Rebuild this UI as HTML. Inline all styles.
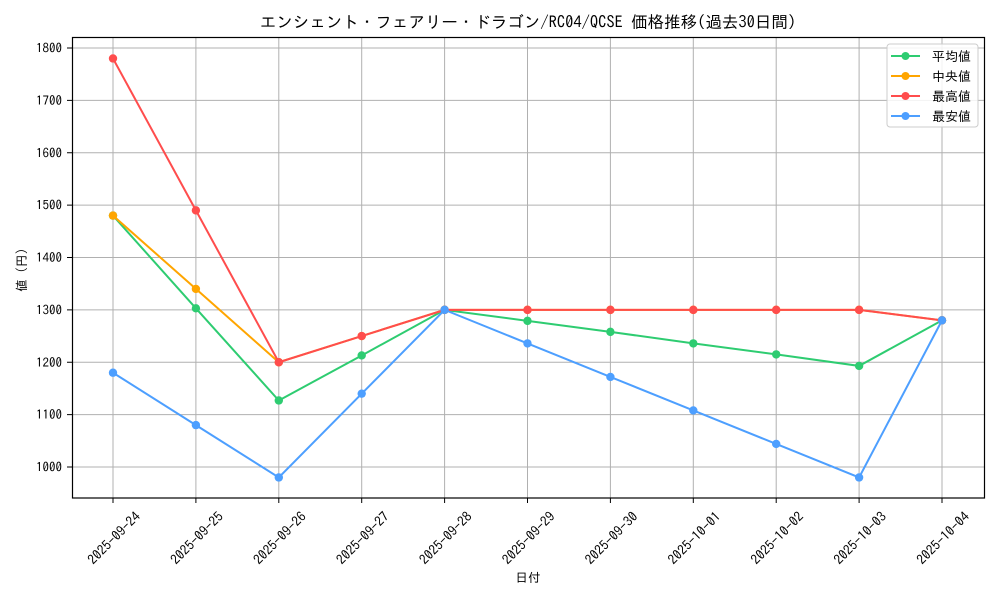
<!DOCTYPE html>
<html><head><meta charset="utf-8"><style>
body{margin:0;background:#fff}
svg{display:block;font-family:"IPAGothic","Noto Sans CJK JP",sans-serif}
</style></head><body>
<svg id="s" width="1000" height="600" xmlns="http://www.w3.org/2000/svg">
<rect width="1000" height="600" fill="#fff"/>
<text x="528" y="28" font-size="16.5" text-anchor="middle" fill="#000">エンシェント・フェアリー・ドラゴン/RC04/QCSE 価格推移(過去30日間)</text>
<g id="grid"></g>
<rect x="72.5" y="37.5" width="912" height="460.5" fill="none" stroke="#000" stroke-width="1.2"/>
<g id="series"></g>
<text x="528" y="582" font-size="12.5" text-anchor="middle">日付</text>
<text transform="translate(26,270) rotate(-90)" font-size="12.5" text-anchor="middle">値 (円)</text>
<g>
<rect x="887" y="44" width="91" height="83" rx="3" fill="#fff" fill-opacity="0.85" stroke="#ccc"/>
<line x1="891" y1="56" x2="920" y2="56" stroke="#2ecc71" stroke-width="2"/><circle cx="905.5" cy="56" r="4" fill="#2ecc71"/><text x="932" y="61" font-size="13">平均値</text>
<line x1="891" y1="76" x2="920" y2="76" stroke="#ffa500" stroke-width="2"/><circle cx="905.5" cy="76" r="4" fill="#ffa500"/><text x="932" y="81" font-size="13">中央値</text>
<line x1="891" y1="96" x2="920" y2="96" stroke="#ff4d4d" stroke-width="2"/><circle cx="905.5" cy="96" r="4" fill="#ff4d4d"/><text x="932" y="101" font-size="13">最高値</text>
<line x1="891" y1="116" x2="920" y2="116" stroke="#4d9fff" stroke-width="2"/><circle cx="905.5" cy="116" r="4" fill="#4d9fff"/><text x="932" y="121" font-size="13">最安値</text>
</g>
</svg>
<script>
var NS="http://www.w3.org/2000/svg";
function X(i){return 113+i*82.9}
function Y(v){return 467-(v-1000)*0.52375}
function el(p,t,a,txt){var e=document.createElementNS(NS,t);for(var k in a)e.setAttribute(k,a[k]);if(txt)e.textContent=txt;p.appendChild(e);return e}
var g=document.getElementById("grid");
var dates=["2025-09-24","2025-09-25","2025-09-26","2025-09-27","2025-09-28","2025-09-29","2025-09-30","2025-10-01","2025-10-02","2025-10-03","2025-10-04"];
for(var i=0;i<11;i++){var x=X(i);el(g,"line",{x1:x,x2:x,y1:37.5,y2:498,stroke:"#b0b0b0","stroke-width":1});
el(g,"line",{x1:x,x2:x,y1:498,y2:503,stroke:"#000"});
el(g,"text",{transform:"translate("+(x+1)+",538) rotate(-45)","font-size":"13.5","text-anchor":"middle",dy:"0.35em"},dates[i]);}
for(var v=1000;v<=1800;v+=100){var y=Y(v);el(g,"line",{x1:72.5,x2:984.5,y1:y,y2:y,stroke:"#b0b0b0","stroke-width":1});
el(g,"line",{x1:67,x2:72.5,y1:y,y2:y,stroke:"#000"});
el(g,"text",{x:62,y:y+4.5,"font-size":"13","text-anchor":"end"},String(v));}
var S=document.getElementById("series");
var data=[
["#2ecc71",[1480,1303,1127,1213,1300,1279,1258,1236,1215,1193,1280]],
["#ffa500",[1480,1340,1200,1250,1300,1300,1300,1300,1300,1300,1280]],
["#ff4d4d",[1780,1490,1200,1250,1300,1300,1300,1300,1300,1300,1280]],
["#4d9fff",[1180,1080,980,1140,1300,1236,1172,1108,1044,980,1280]]];
data.forEach(function(d){var pts=d[1].map(function(v,i){return X(i)+","+Y(v)}).join(" ");
el(S,"polyline",{points:pts,fill:"none",stroke:d[0],"stroke-width":2});
d[1].forEach(function(v,i){el(S,"circle",{cx:X(i),cy:Y(v),r:4.2,fill:d[0]})});});
</script>
</body></html>
